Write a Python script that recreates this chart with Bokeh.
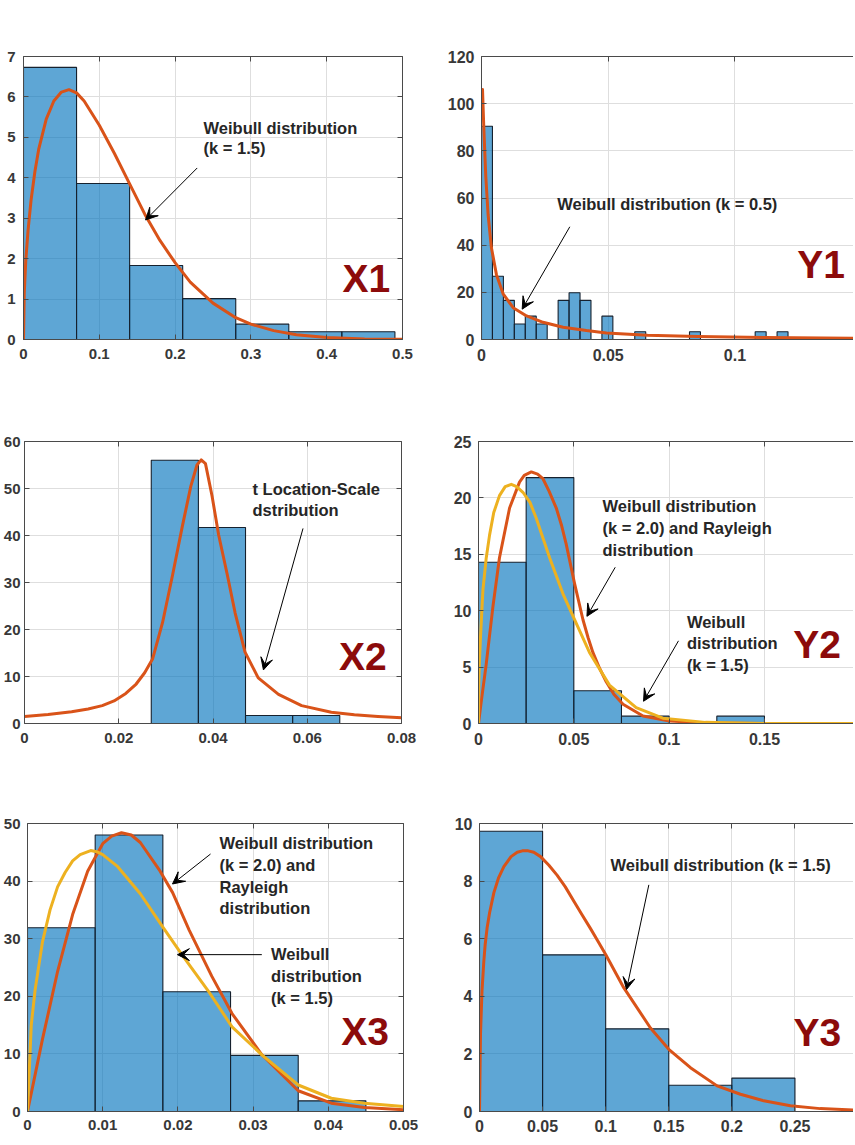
from bokeh.plotting import figure
from bokeh.layouts import row, column
from bokeh.models import Range1d, FixedTicker, LinearAxis, Label, Arrow, VeeHead
from bokeh.embed import file_html
from bokeh.resources import INLINE

# ------------------------------------------------------------------ data
# X1 : histogram + Weibull (k = 1.5)
x1_bin_edges = [0, 0.07, 0.14, 0.21, 0.28, 0.35, 0.42, 0.49]
x1_bin_heights = [6.73, 3.86, 1.83, 1.01, 0.38, 0.19, 0.19]
x1_fit_x = [0, 0.001, 0.003, 0.006, 0.01, 0.015, 0.02, 0.03, 0.04, 0.05, 0.06, 0.07,
            0.08, 0.1, 0.12, 0.14, 0.16, 0.18, 0.2, 0.22, 0.25, 0.28, 0.3, 0.33,
            0.36, 0.4, 0.45, 0.5]
x1_fit_y = [0, 1.15, 1.95, 2.7, 3.45, 4.15, 4.7, 5.45, 5.9, 6.12, 6.18, 6.1,
            5.9, 5.3, 4.6, 3.85, 3.1, 2.45, 1.9, 1.42, 0.9, 0.54, 0.38, 0.22,
            0.12, 0.05, 0.015, 0.004]
x1_xticks = [0, 0.1, 0.2, 0.3, 0.4, 0.5]
x1_xtick_labels = ["0", "0.1", "0.2", "0.3", "0.4", "0.5"]
x1_yticks = [0, 1, 2, 3, 4, 5, 6, 7]

# Y1 : histogram + Weibull (k = 0.5)
y1_bin_width = 0.00432
y1_bin_left = [0.0, 0.00432, 0.00864, 0.01296, 0.01728, 0.0216, 0.03024, 0.03456,
               0.03888, 0.04752, 0.06048, 0.08208, 0.108, 0.11664]
y1_bin_heights = [90.4, 26.8, 16.6, 6.6, 9.9, 6.6, 16.6, 19.8, 16.6, 9.9, 3.3, 3.3,
                  3.3, 3.3]
y1_fit_x = [0.0004, 0.0009, 0.0017, 0.0026, 0.0039, 0.0059, 0.0086, 0.0125, 0.0178,
            0.0243, 0.0322, 0.0414, 0.0493, 0.0655, 0.0853, 0.1117, 0.1468]
y1_fit_y = [106, 90, 69, 53, 39, 27.5, 19.2, 13.5, 10, 7.3, 5.2, 3.8, 2.8, 1.8, 1.3,
            0.85, 0.5]
y1_xticks = [0, 0.05, 0.1]
y1_xtick_labels = ["0", "0.05", "0.1"]
y1_yticks = [0, 20, 40, 60, 80, 100, 120]

# X2 : histogram + t Location-Scale
x2_bin_edges = [0.0269, 0.0369, 0.0469, 0.0569, 0.0669]
x2_bin_heights = [56.0, 41.7, 1.7, 1.7]
x2_fit_x = [0, 0.005, 0.01, 0.0135, 0.0165, 0.019, 0.0215, 0.0237, 0.0255, 0.0272,
            0.0293, 0.0314, 0.0335, 0.0353, 0.0366, 0.0375, 0.0384, 0.0398, 0.0412,
            0.043, 0.0447, 0.0468, 0.0496, 0.0539, 0.0588, 0.0651, 0.07, 0.075, 0.08]
x2_fit_y = [1.5, 1.9, 2.5, 3.1, 3.8, 4.8, 6.4, 8.4, 10.8, 13.8,
            21.5, 31.5, 42.0, 50.5, 55.0, 56.1, 55.3, 48.4, 40.1,
            31.8, 23.5, 15.2, 9.7, 6.2, 3.8, 2.4, 1.85, 1.5, 1.2]
x2_xticks = [0, 0.02, 0.04, 0.06, 0.08]
x2_xtick_labels = ["0", "0.02", "0.04", "0.06", "0.08"]
x2_yticks = [0, 10, 20, 30, 40, 50, 60]

# Y2 : histogram + Weibull (k = 2.0)/Rayleigh + Weibull (k = 1.5)
y2_bin_width = 0.025
y2_bin_left = [0, 0.025, 0.05, 0.075, 0.125]
y2_bin_heights = [14.3, 21.8, 2.9, 0.65, 0.65]
y2_k20_x = [0, 0.0014, 0.004, 0.0076, 0.011, 0.0163, 0.0215, 0.024, 0.0277, 0.031,
            0.0338, 0.037, 0.0408, 0.0435, 0.046, 0.0504, 0.0548, 0.0575, 0.06,
            0.0635, 0.067, 0.071, 0.0758, 0.0863, 0.1002, 0.119, 0.15, 0.1967]
y2_k20_y = [0, 1.9, 5.2, 10.4, 14.7, 19.1, 21.4, 22.0, 22.3, 22.1,
            21.7, 20.6, 19.1, 17.6, 15.9, 12.4, 9.2, 7.6, 6.3,
            4.9, 3.7, 2.6, 1.7, 0.67, 0.23, 0.05, 0.01, 0]
y2_k15_x = [0, 0.0001, 0.0005, 0.001, 0.0023, 0.004, 0.0058, 0.008, 0.011, 0.014,
            0.0172, 0.02, 0.0233, 0.027, 0.0303, 0.0373, 0.0443, 0.0504, 0.0582,
            0.0687, 0.0827, 0.0967, 0.119, 0.15, 0.1967]
y2_k15_y = [0, 3.0, 5.5, 7.5, 11.8, 14.6, 16.7, 18.7, 20.2, 21.0,
            21.2, 21.0, 20.5, 19.6, 18.2, 14.7, 11.5, 9.2, 6.3,
            3.4, 1.4, 0.47, 0.1, 0.01, 0]
y2_xticks = [0, 0.05, 0.1, 0.15]
y2_xtick_labels = ["0", "0.05", "0.1", "0.15"]
y2_yticks = [0, 5, 10, 15, 20, 25]

# X3 : histogram + Weibull (k = 2.0)/Rayleigh + Weibull (k = 1.5)
x3_bin_edges = [0, 0.009, 0.018, 0.027, 0.036, 0.045]
x3_bin_heights = [31.9, 48.0, 20.8, 9.75, 1.85]
x3_k20_x = [0, 0.002, 0.004, 0.006, 0.008, 0.01, 0.0112, 0.0125, 0.0138, 0.015,
            0.0175, 0.0193, 0.0215, 0.0245, 0.0272, 0.0312, 0.036, 0.0404, 0.0448,
            0.05]
x3_k20_y = [0, 12.6, 24.3, 34.2, 41.7, 46.5, 47.8, 48.4, 48.0, 46.7,
            42.0, 38.0, 31.5, 23.5, 17.0, 9.8, 3.6, 1.45, 0.7,
            0.3]
x3_k15_x = [0, 0.0005, 0.001, 0.002, 0.003, 0.004, 0.005, 0.006, 0.007, 0.0084,
            0.0092, 0.01, 0.012, 0.015, 0.018, 0.0206, 0.024, 0.0272, 0.0312, 0.036,
            0.0404, 0.0448, 0.05]
x3_k15_y = [0, 15, 21, 29.5, 35, 39, 41.5, 43.5, 44.6, 45.3,
            45.1, 44.6, 42.5, 37.8, 32, 27.1, 21, 14.7, 9.8, 4.6,
            2.3, 1.45, 0.87]
x3_xticks = [0, 0.01, 0.02, 0.03, 0.04, 0.05]
x3_xtick_labels = ["0", "0.01", "0.02", "0.03", "0.04", "0.05"]
x3_yticks = [0, 10, 20, 30, 40, 50]

# Y3 : histogram + Weibull (k = 1.5)
y3_bin_edges = [0, 0.05, 0.1, 0.15, 0.2, 0.25]
y3_bin_heights = [9.73, 5.44, 2.87, 0.91, 1.16]
y3_fit_x = [0, 0.0008, 0.002, 0.0034, 0.0045, 0.0061, 0.008, 0.0114, 0.015, 0.0193,
            0.025, 0.0299, 0.034, 0.0386, 0.043, 0.0484, 0.055, 0.0616, 0.068,
            0.0748, 0.081, 0.088, 0.094, 0.1, 0.1143, 0.1355, 0.15, 0.1672, 0.1883,
            0.2068, 0.2253, 0.2464, 0.27, 0.2964]
y3_fit_y = [0, 2.7, 4.2, 5.2, 5.8, 6.4, 6.9, 7.6, 8.1, 8.5,
            8.85, 9.0, 9.05, 9.05, 9.0, 8.85, 8.55, 8.2, 7.8,
            7.3, 6.85, 6.35, 5.9, 5.45, 4.3, 2.9, 2.16, 1.52, 0.89,
            0.6, 0.37, 0.2, 0.1, 0.05]
y3_xticks = [0, 0.05, 0.1, 0.15, 0.2, 0.25]
y3_xtick_labels = ["0", "0.05", "0.1", "0.15", "0.2", "0.25"]
y3_yticks = [0, 2, 4, 6, 8, 10]

# ------------------------------------------------------------------ style
FONT = "Liberation Sans"
BAR_FILL = "#0072BD"
BAR_ALPHA = 0.63
BAR_LINE = "#16212e"
RED = "#D95319"
YEL = "#EDB120"
FRAME = "#4a4a4a"
GRID = "#dedede"
TICK_TXT = "#383838"
ANN_TXT = "#262626"
TAG_TXT = "#8C0B0B"


def style_axis(ax, fs, standoff, hidden=False):
    ax.axis_line_color = FRAME
    ax.axis_line_width = 1
    ax.major_tick_line_color = FRAME
    ax.major_tick_in = 5
    ax.major_tick_out = 0
    ax.minor_tick_line_color = None
    ax.major_label_text_font = FONT
    ax.major_label_text_font_style = "bold"
    ax.major_label_standoff = standoff
    ax.major_label_text_font_size = fs
    ax.major_label_text_color = None if hidden else TICK_TXT


def panel(w, h, bl, br, bt, bb, xmax, ymax, xticks, xlabels, yticks, fs,
          ystand, xstand, right_frame):
    p = figure(width=w, height=h, x_range=Range1d(0, xmax), y_range=Range1d(0, ymax),
               output_backend="svg", toolbar_location=None,
               min_border_left=bl, min_border_right=br, min_border_top=bt,
               min_border_bottom=bb)
    p.outline_line_color = None
    p.background_fill_color = "white"
    p.border_fill_color = "white"
    xt = FixedTicker(ticks=xticks)
    yt = FixedTicker(ticks=yticks)
    p.xaxis.ticker = xt
    p.yaxis.ticker = yt
    p.xaxis.major_label_overrides = dict(zip(xticks, xlabels))
    p.xgrid.ticker = xt
    p.ygrid.ticker = yt
    p.xgrid.grid_line_color = GRID
    p.ygrid.grid_line_color = GRID
    style_axis(p.xaxis[0], fs, xstand)
    style_axis(p.yaxis[0], fs, ystand)
    top = LinearAxis(ticker=xt)
    style_axis(top, fs, 0, hidden=True)
    p.add_layout(top, "above")
    if right_frame:
        rgt = LinearAxis(ticker=yt)
        style_axis(rgt, fs, 0, hidden=True)
        p.add_layout(rgt, "right")
    return p


def bars(p, left, right, heights):
    p.quad(left=left, right=right, bottom=0, top=heights, fill_color=BAR_FILL,
           fill_alpha=BAR_ALPHA, line_color=BAR_LINE, line_width=1.1)


def curve(p, xs, ys, color):
    p.line(xs, ys, line_color=color, line_width=3, line_join="round", line_cap="round")


def text(p, x, y, s, size="16.5px", color=ANN_TXT):
    p.add_layout(Label(x=x, y=y, text=s, text_font=FONT, text_font_style="bold",
                       text_font_size=size, text_color=color, text_baseline="middle",
                       text_align="left"))


def arrow(p, xs, ys, xe, ye):
    p.add_layout(Arrow(end=VeeHead(size=12, fill_color="black", line_color="black",
                                   line_width=1),
                       x_start=xs, y_start=ys, x_end=xe, y_end=ye,
                       line_color="black", line_width=1))


# ---------------------------------------------------------------- panels
# X1
p1 = panel(440, 390, 23, 38, 56, 44, 0.5, 7, x1_xticks, x1_xtick_labels, x1_yticks,
           "15px", 8, 9, True)
bars(p1, x1_bin_edges[:-1], x1_bin_edges[1:], x1_bin_heights)
curve(p1, x1_fit_x, x1_fit_y, RED)
text(p1, 0.2375, 5.235, "Weibull distribution")
text(p1, 0.2375, 4.728, "(k = 1.5)")
arrow(p1, 0.2292, 4.243, 0.161, 2.957)
text(p1, 0.4208, 1.508, "X1", "39px", TAG_TXT)

# Y1
p2 = panel(413, 390, 41, 0, 53, 51, 0.1468, 120, y1_xticks, y1_xtick_labels, y1_yticks,
           "16px", 7, 9, False)
bars(p2, y1_bin_left, [l + y1_bin_width for l in y1_bin_left], y1_bin_heights)
curve(p2, y1_fit_x, y1_fit_y, RED)
text(p2, 0.02987, 57.3, "Weibull distribution (k = 0.5)")
arrow(p2, 0.03485, 47.8, 0.01606, 12.87)
text(p2, 0.1246, 31.7, "Y1", "39px", TAG_TXT)

# X2
p3 = panel(440, 386, 21, 39, 51, 46, 0.08, 60, x2_xticks, x2_xtick_labels, x2_yticks,
           "15px", 4, 9, True)
bars(p3, x2_bin_edges[:-1], x2_bin_edges[1:], x2_bin_heights)
curve(p3, x2_fit_x, x2_fit_y, RED)
text(p3, 0.04838, 49.9, "t Location-Scale")
text(p3, 0.04838, 45.5, "dstribution")
arrow(p3, 0.0591, 41.5, 0.0507, 11.4)
text(p3, 0.06674, 14.16, "X2", "39px", TAG_TXT)

# Y2
p4 = panel(413, 386, 38, 0, 45, 53, 0.1967, 25, y2_xticks, y2_xtick_labels, y2_yticks,
           "16px", 7, 9, False)
bars(p4, y2_bin_left, [l + y2_bin_width for l in y2_bin_left], y2_bin_heights)
curve(p4, y2_k20_x, y2_k20_y, RED)
curve(p4, y2_k15_x, y2_k15_y, YEL)
text(p4, 0.06506, 19.26, "Weibull distribution")
text(p4, 0.06506, 17.32, "(k = 2.0) and Rayleigh")
text(p4, 0.06506, 15.41, "distribution")
arrow(p4, 0.07172, 13.85, 0.05687, 9.5)
text(p4, 0.1093, 9.01, "Weibull")
text(p4, 0.1093, 7.12, "distribution")
text(p4, 0.1093, 5.21, "(k = 1.5)")
arrow(p4, 0.1049, 7.33, 0.08657, 1.97)
text(p4, 0.1651, 7.04, "Y2", "39px", TAG_TXT)

# X3
p5 = panel(440, 369, 24, 37, 47, 33, 0.05, 50, x3_xticks, x3_xtick_labels, x3_yticks,
           "15px", 7, 8, True)
bars(p5, x3_bin_edges[:-1], x3_bin_edges[1:], x3_bin_heights)
curve(p5, x3_k20_x, x3_k20_y, RED)
curve(p5, x3_k15_x, x3_k15_y, YEL)
text(p5, 0.02553, 46.6, "Weibull distribution")
text(p5, 0.02553, 42.85, "(k = 2.0) and")
text(p5, 0.02553, 39.05, "Rayleigh")
text(p5, 0.02553, 35.3, "distribution")
arrow(p5, 0.02434, 44.7, 0.01928, 39.5)
text(p5, 0.03239, 27.28, "Weibull")
text(p5, 0.03239, 23.53, "distribution")
text(p5, 0.03239, 19.72, "(k = 1.5)")
arrow(p5, 0.03116, 27.23, 0.01994, 27.23)
text(p5, 0.04173, 13.84, "X3", "39px", TAG_TXT)

# Y3
p6 = panel(413, 369, 39, 0, 46, 34, 0.2964, 10, y3_xticks, y3_xtick_labels, y3_yticks,
           "16px", 7, 8, False)
bars(p6, y3_bin_edges[:-1], y3_bin_edges[1:], y3_bin_heights)
curve(p6, y3_fit_x, y3_fit_y, RED)
text(p6, 0.1038, 8.56, "Weibull distribution (k = 1.5)")
arrow(p6, 0.1342, 7.87, 0.1165, 4.235)
text(p6, 0.2488, 2.73, "Y3", "39px", TAG_TXT)

layout = column(row(p1, p2), row(p3, p4), row(p5, p6))

with open("out.html", "w") as f:
    f.write(file_html(layout, INLINE))
